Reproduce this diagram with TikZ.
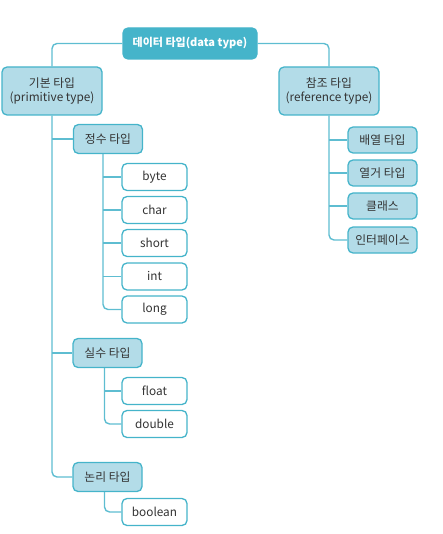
\documentclass[tikz,border=0pt]{standalone}
\usepackage{fontspec}
\setmainfont{Noto Sans CJK KR}
\begin{document}
\begin{tikzpicture}[x=1pt,y=-1pt,
  font=\fontsize{11.8}{13.5}\selectfont,
  base/.style={draw=teal0, line width=1.3pt, rounded corners=5pt, inner sep=0pt, align=center, text=black!80},
  topbox/.style={base, fill=teal0, text=white, font=\fontsize{11}{12}\selectfont\bfseries, minimum width=134pt, minimum height=31pt},
  lvlone/.style={base, fill=lightb, minimum width=100pt, minimum height=48pt},
  lvltwo/.style={base, fill=lightb, minimum width=69pt, minimum height=29pt},
  leaf/.style={base, fill=white, minimum width=65pt, minimum height=27pt},
  rleaf/.style={base, fill=lightb, minimum width=69pt, minimum height=26pt},
  conn/.style={draw=linec, line width=1.4pt, rounded corners=5pt}
]
\definecolor{teal0}{HTML}{45B4CA}
\definecolor{lightb}{HTML}{B3DCE8}
\definecolor{linec}{HTML}{5EBDD1}
\useasboundingbox (0,0) rectangle (443,534);

\node[topbox] (top) at (190,43.5) {데이터 타입(data type)};
\node[lvlone] (prim) at (52,91) {기본 타입\\(primitive type)};
\node[lvlone] (ref) at (329,91) {참조 타입\\(reference type)};

\node[lvltwo] (jeongsu) at (108,139) {정수 타입};
\node[leaf] (byte) at (154.5,177) {byte};
\node[leaf] (char) at (154.5,210) {char};
\node[leaf] (short) at (154.5,243) {short};
\node[leaf] (int) at (154.5,276.5) {int};
\node[leaf] (long) at (154.5,309.5) {long};

\node[lvltwo] (silsu) at (107.5,353) {실수 타입};
\node[leaf] (float) at (154.5,391) {float};
\node[leaf] (double) at (154.5,424) {double};

\node[lvltwo] (nonri) at (107.5,477) {논리 타입};
\node[leaf] (boolean) at (154.5,512) {boolean};

\node[rleaf] (arr) at (382.5,140) {배열 타입};
\node[rleaf] (enum) at (382.5,173) {열거 타입};
\node[rleaf] (cls) at (382.5,206) {클래스};
\node[rleaf] (iface) at (382.5,240) {인터페이스};

\coordinate (jt) at ([xshift=-5pt]jeongsu.south);
\coordinate (st) at ([xshift=-3pt]silsu.south);
\coordinate (nt) at ([xshift=-3pt]nonri.south);

\draw[conn] (top.west) -| (prim.north);
\draw[conn] (top.east) -| (ref.north);
\draw[conn] (prim.south) |- (nonri.west);
\draw[conn] (prim.south |- jeongsu.west) -- (jeongsu.west);
\draw[conn] (prim.south |- silsu.west) -- (silsu.west);
\draw[conn] (jt) |- (long.west);
\draw[conn] (jt |- byte.west) -- (byte.west);
\draw[conn] (jt |- char.west) -- (char.west);
\draw[conn] (jt |- short.west) -- (short.west);
\draw[conn] (jt |- int.west) -- (int.west);
\draw[conn] (st) |- (double.west);
\draw[conn] (st |- float.west) -- (float.west);
\draw[conn] (nt) |- (boolean.west);
\draw[conn] (ref.south) |- (iface.west);
\draw[conn] (ref.south |- arr.west) -- (arr.west);
\draw[conn] (ref.south |- enum.west) -- (enum.west);
\draw[conn] (ref.south |- cls.west) -- (cls.west);
\end{tikzpicture}
\end{document}
